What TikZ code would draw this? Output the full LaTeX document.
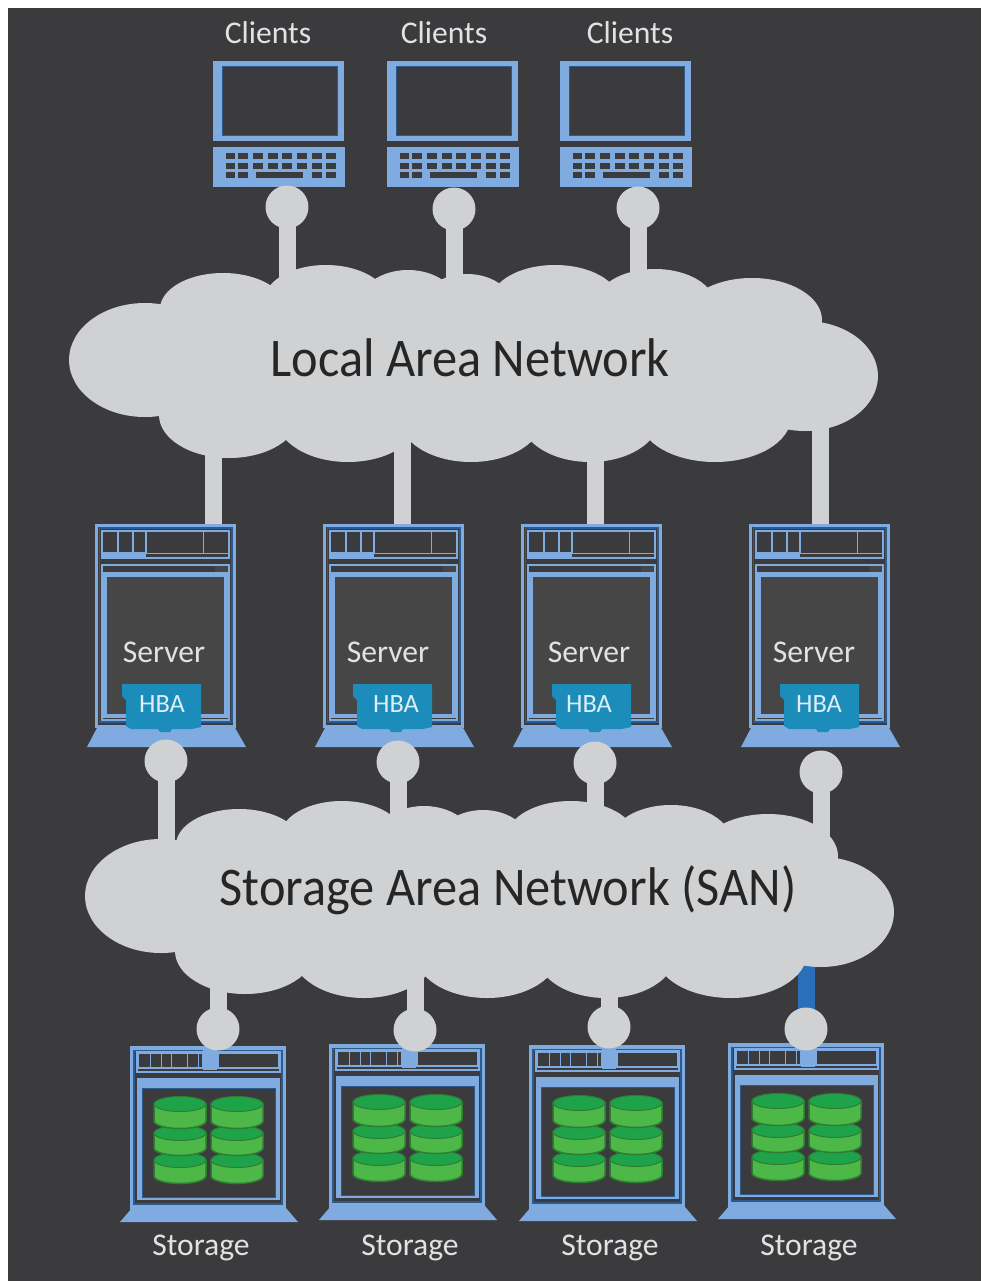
\documentclass[tikz,border=0pt]{standalone}
\usepackage{fontspec}
\setmainfont{Carlito}
\newfontfamily\cloudfont[FakeStretch=0.925]{Carlito}
\usetikzlibrary{backgrounds}
\definecolor{panelgrey}{HTML}{3B3B3D}
\definecolor{insidegrey}{HTML}{454645}
\definecolor{cloudgrey}{HTML}{D0D1D3}
\definecolor{lightblue}{HTML}{7FABE0}
\definecolor{darkblue}{HTML}{2B5A8C}
\definecolor{cableblue}{HTML}{2A6FBA}
\definecolor{hbablue}{HTML}{1C8DBB}
\definecolor{disktop}{HTML}{1FA34A}
\definecolor{diskside}{HTML}{4DB848}
\definecolor{diskedge}{HTML}{2E7D32}
\definecolor{labelgrey}{HTML}{E2E2E2}
\tikzset{
  port/.style={circle, fill=cloudgrey, inner sep=0pt, minimum size=0.86cm},
  cable/.style={draw=cloudgrey, line width=0.34cm},
  bluecable/.style={draw=cableblue, line width=0.34cm},
  devlabel/.style={text=labelgrey, inner sep=0pt, font=\fontsize{18}{18}\selectfont},
  cloudlabel/.style={text=black!85, inner sep=0pt, font=\cloudfont\fontsize{31}{31}\selectfont},
  hbalabel/.style={text=white!85!hbablue, inner sep=0pt, font=\fontsize{15}{15}\selectfont},
  devframe/.style={draw=lightblue, line width=0.06cm, fill=panelgrey, inner sep=0pt},
  thinblue/.style={draw=darkblue, line width=0.03cm},
  thinlight/.style={draw=lightblue, line width=0.03cm},
}
% one lobed cloud, drawn from ellipses
\newcommand{\drawcloud}{
  \fill[cloudgrey] (170,300) rectangle (780,420);
  \foreach \x/\y/\rx/\ry in {145/360/76/57, 805/376/73/55, 223/309/63/36, 326/301/62/36, 408/306/50/36, 467/310/48/36, 555/301/64/36, 655/305/60/36, 752/320/70/42}
    \fill[cloudgrey] (\x,\y) ellipse [x radius=\rx, y radius=\ry];
  \foreach \x/\y/\rx/\ry in {229/415/70/43, 348/417/72/45, 471/417/72/45, 590/417/70/45, 715/417/76/45}
    \fill[cloudgrey] (\x,\y) ellipse [x radius=\rx, y radius=\ry];
}
\begin{document}
\begin{tikzpicture}[x=0.02cm,y=-0.02cm]
\useasboundingbox (0,0) rectangle (981,1281);
\begin{scope}[on background layer]
\fill[white] (0,0) rectangle (981,1281);
\fill[panelgrey] (8,8) rectangle (981,1281);
\end{scope}
% clouds
\drawcloud
\node[cloudlabel] (lan) at (470,358) {Local Area Network};
\begin{scope}[shift={(16,536)}]
\drawcloud
\end{scope}
\node[cloudlabel] (san) at (508,890) {Storage Area Network (SAN)};
% clients
\foreach \n/\dx/\tx/\px/\py in {1/0/268/287/207, 2/174/444/454/209, 3/347/630/638/208}{
\node[devlabel] (clientlabel\n) at (\tx,33) {Clients};
\begin{scope}[shift={(\dx,0)}]
\fill[lightblue] (213,61) rectangle (344,141);
\filldraw[fill=panelgrey, draw=darkblue, line width=0.02cm] (222,66) rectangle (337,135);
\fill[lightblue] (213,147) rectangle (345,187);
\foreach \kx in {225.7,238.3,253.3,268.3,282.3,297.3,312.3,326}
  \foreach \ky in {153,162.5}
    \fill[panelgrey] (\kx,\ky) rectangle +(9.5,6);
\foreach \kx in {225.7,238.3,312.3,326}
  \fill[panelgrey] (\kx,172) rectangle +(9.5,6);
\fill[panelgrey] (256,172) rectangle (303,178);
\end{scope}
\node[port] (clientport\n) at (\px,\py) {};
\begin{scope}[on background layer]
\draw[cable] (clientport\n.center) -- (clientport\n |- lan);
\end{scope}
}
% servers
\foreach \n/\dx/\tx/\hx/\cardx/\upx/\px/\py in {1/0/164/162/0/213/166/761, 2/228/388/396/231/402/398/762, 3/426/589/589/430/595/595/763, 4/654/814/819/658/820/821/772}{
\begin{scope}[shift={(\dx,0)}]
\fill[lightblue] (98,726) -- (234,726) -- (246,747) -- (87,747) -- cycle;
\node[devframe, minimum width=2.76cm, minimum height=4.04cm] (server\n) at (165.5,626) {};
\draw[thinblue] (99.5,528) rectangle (232,722);
\draw[thinlight] (102,531) rectangle (229,558);
\fill[lightblue] (102,553.5) rectangle (146,558);
\draw[thinlight] (102,531) rectangle (118,553) (118,531) rectangle (133,553) (133,531) rectangle (146,553);
\draw[thinlight, line width=0.01cm] (146,531) rectangle (229,553) (203,531) -- (203,553);
\draw[thinlight] (102,565) rectangle (229,573);
\fill[insidegrey] (215,566) rectangle (228,572);
\draw[lightblue, line width=0.07cm, fill=insidegrey] (105,575.5) rectangle (226,716);
\draw[thinlight] (102,573) rectangle (229,720);
\end{scope}
\node[devlabel] (serverlabel\n) at (\tx,652) {Server};
\begin{scope}[shift={(\cardx,0)}]
\fill[hbablue] (122,684) -- (201,684) -- (201,727) -- (192,729) -- (172,729) -- (170,732) -- (160,732) -- (158,729) -- (131,729) -- (126,726) -- (126,700) -- (122,696) -- cycle;
\end{scope}
\node[hbalabel] (hba\n) at (\hx,704) {HBA};
\coordinate (serverup\n) at (\upx,525);
\node[port] (serverport\n) at (\px,\py) {};
\begin{scope}[on background layer]
\draw[cable] (serverup\n) -- (serverup\n |- lan);
\draw[cable] (serverport\n.center) -- (serverport\n |- san);
\end{scope}
}
% storage
\foreach \n/\dx/\dy/\tx/\px/\py/\cablestyle in {1/0/0/201/218/1029/cable, 2/199/-2/410/415/1030/cable, 3/399/-1/610/609/1027/cable, 4/598/-3/809/806/1029/bluecable}{
\begin{scope}[shift={(\dx,\dy)}]
\fill[lightblue] (132,1208) -- (286,1208) -- (298,1222) -- (120,1222) -- cycle;
\node[devframe, line width=0.09cm, minimum width=3.04cm, minimum height=3.18cm] (storage\n) at (208,1128) {};
\draw[thinblue] (134,1051) rectangle (282,1204);
\fill[lightblue] (203,1048) rectangle (217,1070);
\draw[thinlight] (137,1052) rectangle (280,1072);
\draw[thinlight] (138,1053) rectangle (203,1068) (218,1053) rectangle (279,1068);
\foreach \cx in {150,161,171,187,198}
  \draw[thinlight, line width=0.01cm] (\cx,1053) -- (\cx,1068);
\fill[lightblue] (137,1078) rectangle (280,1200);
\filldraw[fill=panelgrey, draw=darkblue, line width=0.02cm] (142,1088) rectangle (275,1197);
\foreach \cx in {180,237}
  \foreach \topy/\boty in {1160/1183, 1133/1155, 1104/1128}{
    \filldraw[fill=diskside, draw=diskedge, line width=0.03cm] (\cx-26,\topy) -- (\cx-26,\boty-7) arc[start angle=180, end angle=360, x radius=26, y radius=-7.5] -- (\cx+26,\topy) -- cycle;
    \filldraw[fill=disktop, draw=diskedge, line width=0.02cm] (\cx,\topy) ellipse (26 and 7.5);
  }
\end{scope}
\node[devlabel] (storagelabel\n) at (\tx,1248) {Storage};
\node[port] (storageport\n) at (\px,\py) {};
\begin{scope}[on background layer]
\draw[\cablestyle] (storageport\n.center) -- (storageport\n |- san);
\end{scope}
}
\end{tikzpicture}
\end{document}
